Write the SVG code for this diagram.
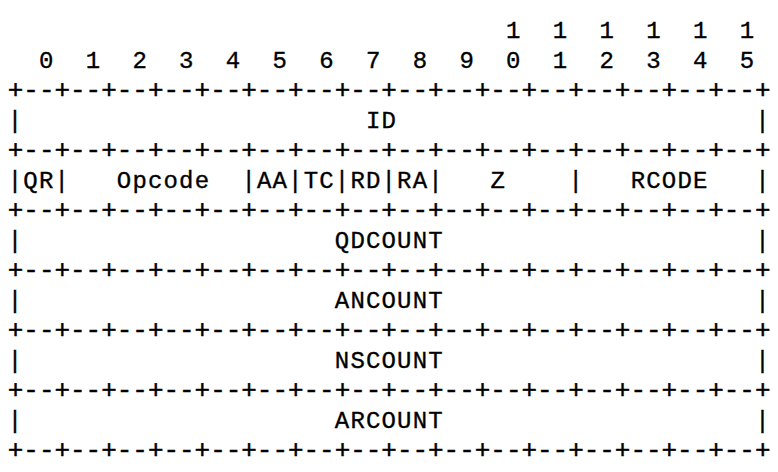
<svg xmlns="http://www.w3.org/2000/svg" width="778" height="472" viewBox="0 0 778 472">
<style>
text{font-family:"Liberation Mono","Courier New",monospace;font-size:24px;letter-spacing:1.17px;fill:#000;stroke:#000;stroke-width:0.35px;white-space:pre}
text.r{font-size:25.95px;letter-spacing:0;stroke-width:0.5px}
</style>
<rect width="778" height="472" fill="#fff"/>
<g id="header" xml:space="preserve">
<text x="7.8" y="38">                                1  1  1  1  1  1</text>
<text x="7.8" y="68">  0  1  2  3  4  5  6  7  8  9  0  1  2  3  4  5</text>
<text class="r" x="7.8" y="98">+--+--+--+--+--+--+--+--+--+--+--+--+--+--+--+--+</text>
<text x="7.8" y="128">|                      ID                       |</text>
<text class="r" x="7.8" y="158">+--+--+--+--+--+--+--+--+--+--+--+--+--+--+--+--+</text>
<text x="7.8" y="188">|QR|   Opcode  |AA|TC|RD|RA|   Z    |   RCODE   |</text>
<text class="r" x="7.8" y="218">+--+--+--+--+--+--+--+--+--+--+--+--+--+--+--+--+</text>
<text x="7.8" y="248">|                    QDCOUNT                    |</text>
<text class="r" x="7.8" y="278">+--+--+--+--+--+--+--+--+--+--+--+--+--+--+--+--+</text>
<text x="7.8" y="308">|                    ANCOUNT                    |</text>
<text class="r" x="7.8" y="338">+--+--+--+--+--+--+--+--+--+--+--+--+--+--+--+--+</text>
<text x="7.8" y="368">|                    NSCOUNT                    |</text>
<text class="r" x="7.8" y="398">+--+--+--+--+--+--+--+--+--+--+--+--+--+--+--+--+</text>
<text x="7.8" y="428">|                    ARCOUNT                    |</text>
<text class="r" x="7.8" y="458">+--+--+--+--+--+--+--+--+--+--+--+--+--+--+--+--+</text>
</g>
</svg>
